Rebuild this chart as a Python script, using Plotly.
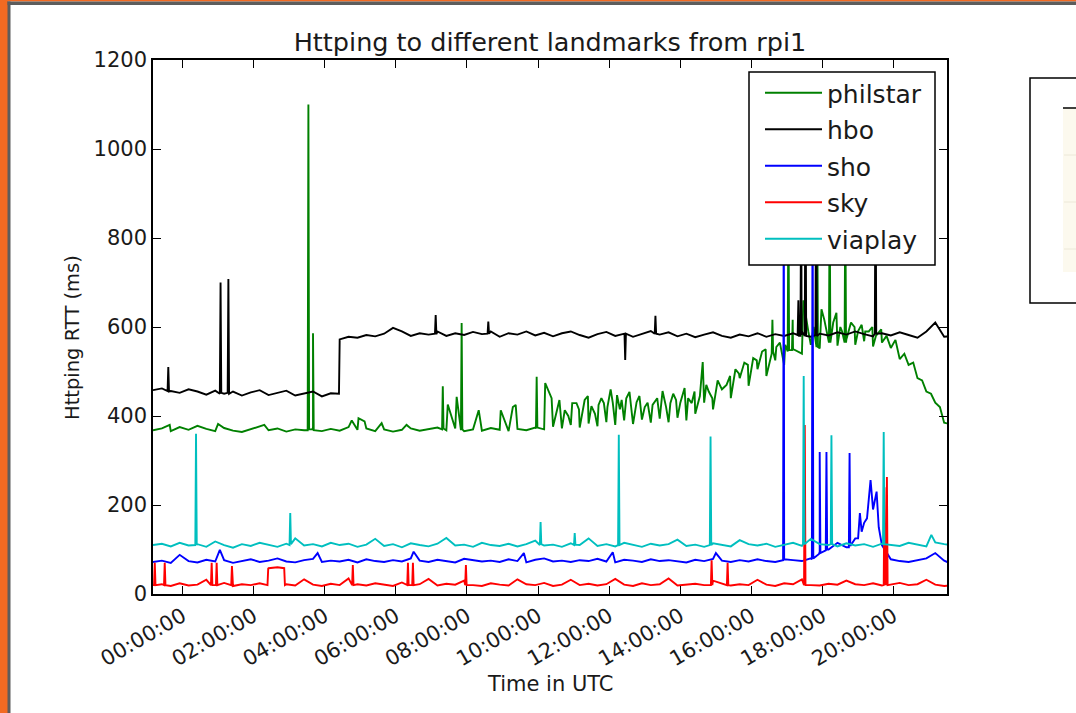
import numpy as np
import plotly.graph_objects as go

# ---------------- data (hours since 00:00 UTC, RTT in ms) ----------------
T0 = -0.83      # first sample (hours)
DT = 0.25       # sample spacing of the base readings (hours)

philstar_base = [368, 372, 366, 375, 369, 378, 371, 366, 373, 367, 364, 370, 376, 368, 372, 365,
                 370, 368, 374, 366, 371, 367, 375, 369, 372, 366, 370, 365, 369, 372, 367, 370,
                 374, 368, 372, 366, 370, 367, 373, 369, 366, 371, 368, 374, 370, 376, 372, 380,
                 374, 383, 377, 386, 380, 390, 382, 392, 385, 394, 386, 396, 390, 405, 430, 415,
                 460, 440, 485, 468, 505, 490, 525, 515, 548, 540, 560, 552, 570, 558, 572, 560,
                 568, 556, 565, 553, 528, 515, 485, 455, 430, 385, 380]
philstar_extra_t = [-0.36, 1.0, 2.3, 3.52, 3.54, 3.56, 3.65, 3.67, 3.69, 4.76, 4.95, 5.12, 5.6, 6.3,
                    7.30, 7.32, 7.34, 7.46, 7.71, 7.83, 7.85, 7.87, 8.33, 8.95, 9.29, 9.37,
                    9.94, 9.96, 9.98, 10.20, 10.38, 10.60, 10.75, 10.96, 11.08, 11.31, 11.50, 11.70,
                    11.85, 12.04, 12.22, 12.35, 12.57, 12.77, 13.00, 13.22, 13.50, 13.72, 13.88,
                    14.12, 14.32, 14.63, 14.73, 14.80, 15.05, 15.30, 15.55, 15.80, 16.05, 16.30,
                    16.57, 16.59, 16.61, 16.80, 17.02, 17.04, 17.06, 17.14, 17.16, 17.18, 17.46,
                    17.83, 17.85, 17.87, 17.97, 18.05, 18.18, 18.20, 18.22, 18.39, 18.50,
                    18.62, 18.64, 18.66, 18.80, 19.00, 19.10, 19.30, 19.40, 19.55, 19.65, 19.80,
                    20.05, 20.30, 20.55, 20.80, 21.05, 21.30,
                    10.85, 11.15, 11.40, 11.60, 11.78, 11.95, 12.10, 12.30, 12.48, 12.62, 12.85,
                    13.08, 13.35, 13.60, 13.80, 14.00, 14.22, 14.40, 14.55,
                    14.90, 15.12, 15.40, 15.65, 15.90, 16.15, 16.40, 16.70, 16.95,
                    17.60, 17.75, 18.10, 18.30, 18.55, 18.90, 19.20, 19.50, 19.75]
philstar_extra_v = [380, 382, 380, 368, 1100, 370, 370, 586, 368, 390, 395, 388, 384, 380,
                    370, 467, 372, 426, 443, 368, 609, 370, 413, 413, 420, 425,
                    372, 488, 374, 474, 440, 436, 413, 429, 429, 436, 422, 425,
                    429, 460, 447, 436, 454, 431, 420, 425, 456, 429, 436,
                    463, 429, 521, 470, 455, 480, 470, 505, 520, 530, 545,
                    540, 616, 545, 565, 545, 900, 548, 548, 616, 550, 660,
                    555, 900, 555, 640, 616, 565, 900, 565, 632, 600,
                    565, 900, 565, 610, 591, 605, 590, 600, 585, 595, 580,
                    571, 540, 520, 480, 450, 420,
                    400, 415, 445, 405, 440, 420, 430, 415, 440, 420, 445,
                    430, 440, 420, 450, 430, 440, 455, 445,
                    440, 470, 490, 495, 515, 525, 550, 555, 560,
                    590, 600, 595, 610, 590, 600, 590, 580, 575]

hbo_base = [458, 462, 456, 452, 460, 455, 448, 457, 450, 455, 446, 453, 458, 447, 452, 457,
            446, 450, 455, 444, 451, 572, 578, 576, 582, 579, 585, 598, 590, 580, 586, 583,
            590, 580, 586, 582, 589, 584, 590, 578, 586, 583, 590, 581, 587, 579, 586, 590,
            582, 576, 584, 589, 580, 586, 578, 585, 591, 583, 588, 579, 585, 577, 583, 588,
            580, 576, 583, 579, 586, 578, 584, 580, 586, 590, 578, 585, 581, 588, 583, 590,
            584, 579, 586, 581, 588, 582, 576, 590, 610, 578, 580]
hbo_extra_t = [-0.42, -0.40, -0.38, 1.05, 1.07, 1.09, 1.27, 1.29, 1.31, 4.40,
               7.10, 7.12, 7.14, 8.58, 8.60, 8.62, 12.43, 12.45, 12.47, 13.28, 13.30, 13.32,
               17.30, 17.32, 17.34, 17.38, 17.40, 17.41, 17.50, 17.52, 17.54,
               17.80, 17.82, 17.84, 19.47, 19.49, 19.51]
hbo_extra_v = [456, 510, 455, 450, 700, 452, 452, 708, 450, 450,
               585, 627, 584, 585, 612, 585, 585, 526, 585, 585, 625, 585,
               582, 660, 580, 580, 1000, 582, 580, 1000, 580,
               582, 1000, 580, 585, 1000, 585]

sho_base = [72, 75, 70, 88, 74, 71, 77, 73, 76, 70, 74, 78, 72, 75, 80, 73,
            71, 76, 79, 72, 75, 73, 77, 71, 78, 74, 72, 76, 73, 80, 75, 72,
            77, 74, 71, 79, 76, 73, 75, 72, 78, 74, 71, 77, 80, 73, 75, 72,
            76, 74, 79, 73, 71, 77, 75, 72, 78, 74, 76, 73, 71, 77, 74, 79,
            75, 72, 76, 73, 78, 74, 72, 76, 76, 74, 80, 95, 100, 115, 105, 125,
            160, 190, 110, 78, 74, 72, 76, 80, 92, 75, 66]
sho_extra_t = [1.05, 3.8, 6.5, 9.6, 12.1, 15.0,
               16.89, 16.91, 16.93, 17.70, 17.72, 17.74, 17.90, 17.92, 17.94,
               18.09, 18.11, 18.13, 18.74, 18.76, 18.78, 19.00, 19.05, 19.10,
               19.25, 19.35, 19.45, 19.52, 19.58]
sho_extra_v = [99, 92, 95, 92, 94, 92,
               76, 1000, 78, 78, 1000, 80, 90, 319, 92,
               98, 319, 100, 105, 317, 108, 125, 182, 140,
               170, 256, 200, 230, 150]

sky_base = [20, 22, 18, 24, 19, 21, 32, 20, 25, 18, 22, 20, 24, 58, 60, 22,
            19, 33, 21, 18, 23, 20, 35, 22, 19, 24, 21, 18, 26, 20, 22, 34,
            19, 23, 21, 30, 20, 18, 24, 21, 19, 33, 22, 20, 25, 18, 21, 32,
            20, 23, 19, 22, 34, 21, 18, 24, 20, 22, 35, 19, 21, 23, 20, 30,
            24, 19, 22, 20, 32, 21, 18, 24, 22, 33, 20, 19, 23, 21, 30, 22,
            20, 24, 19, 21, 25, 20, 22, 32, 21, 18, 20]
sky_extra_t = [-0.80, -0.78, -0.76, -0.52, -0.50, -0.48, 0.80, 0.82, 0.84, 0.94, 0.96, 0.98,
               1.37, 1.39, 1.41, 2.39, 2.41, 2.86, 2.88, 4.77, 4.79, 4.81,
               6.32, 6.34, 6.36, 6.46, 6.48, 6.50, 7.95, 7.97, 7.99,
               14.86, 14.88, 14.90, 15.31, 15.33, 15.35, 17.48, 17.50, 17.52,
               19.72, 19.74, 19.76, 19.79, 19.81, 19.83]
sky_extra_v = [20, 70, 20, 20, 70, 20, 20, 70, 20, 20, 70, 20,
               20, 63, 20, 20, 57, 58, 20, 20, 65, 20,
               20, 70, 20, 20, 70, 20, 20, 65, 20,
               20, 76, 20, 20, 70, 20, 20, 380, 20,
               20, 240, 22, 22, 263, 20]

viaplay_base = [110, 113, 107, 115, 109, 112, 106, 118, 110, 104, 112, 108, 115, 110, 106, 113,
                125, 109, 112, 107, 115, 110, 113, 106, 111, 124, 108, 112, 105, 114, 110, 107,
                113, 126, 109, 111, 106, 115, 110, 108, 113, 107, 112, 120, 109, 111, 106, 114,
                110, 125, 108, 112, 107, 115, 111, 106, 113, 109, 112, 122, 108, 111, 106, 114,
                110, 107, 121, 112, 109, 113, 106, 111, 115, 108, 124, 112, 110, 107, 114, 109,
                112, 106, 113, 110, 108, 115, 111, 107, 116, 112, 110]
viaplay_extra_t = [0.36, 0.38, 0.40, 3.01, 3.03, 3.05, 10.05, 10.07, 10.09, 11.01, 11.03, 11.05,
                   12.25, 12.27, 12.29, 14.83, 14.85, 14.87, 17.45, 17.47, 17.49,
                   18.23, 18.25, 18.27, 19.70, 19.72, 19.74, 21.06]
viaplay_extra_v = [110, 360, 111, 110, 182, 112, 110, 162, 112, 110, 137, 111,
                   110, 358, 110, 110, 354, 110, 112, 490, 112,
                   112, 357, 112, 112, 364, 112, 133]

tick_hours = [0, 2, 4, 6, 8, 10, 12, 14, 16, 18, 20]
tick_labels = ["00:00:00", "02:00:00", "04:00:00", "06:00:00", "08:00:00", "10:00:00",
               "12:00:00", "14:00:00", "16:00:00", "18:00:00", "20:00:00"]

series = [
    ("philstar", philstar_base, philstar_extra_t, philstar_extra_v, "#008000"),
    ("hbo", hbo_base, hbo_extra_t, hbo_extra_v, "#000000"),
    ("sho", sho_base, sho_extra_t, sho_extra_v, "#0000ff"),
    ("sky", sky_base, sky_extra_t, sky_extra_v, "#ff0000"),
    ("viaplay", viaplay_base, viaplay_extra_t, viaplay_extra_v, "#00bfbf"),
]


def build(base, et, ev):
    t = T0 + DT * np.arange(len(base))
    t = np.concatenate([t, np.asarray(et, float)])
    v = np.concatenate([np.asarray(base, float), np.asarray(ev, float)])
    order = np.argsort(t, kind="stable")
    return t[order], v[order]


FONT = "DejaVu Sans"
TXT = "#1a1a1a"
W, H = 1076, 713
L, R, TOP, BOT = 153, 947, 60, 594   # plot area in pixels

fig = go.Figure()
for name, base, et, ev, col in series:
    t, v = build(base, et, ev)
    fig.add_trace(go.Scatter(x=t, y=v, mode="lines", name=name, legendgroup=name,
                             line=dict(color=col, width=1.9), hoverinfo="skip"))


def px(x):
    return (x - L) / (R - L)


def py(y):
    return (BOT - y) / (BOT - TOP)


shapes = [
    # slide frame: orange edge + dark grey rule
    dict(type="rect", xref="paper", yref="paper", x0=px(-5), x1=px(8), y0=py(720), y1=py(-5),
         fillcolor="#f26a22", line=dict(width=0), layer="below"),
    dict(type="rect", xref="paper", yref="paper", x0=px(8), x1=px(W + 5), y0=py(1.5), y1=py(-5),
         fillcolor="#f26a22", line=dict(width=0), layer="below"),
    dict(type="rect", xref="paper", yref="paper", x0=px(7.5), x1=px(10.5), y0=py(720), y1=py(1.5),
         fillcolor="#5d5d5d", line=dict(width=0), layer="below"),
    dict(type="rect", xref="paper", yref="paper", x0=px(7.5), x1=px(W + 5), y0=py(5), y1=py(1.5),
         fillcolor="#5d5d5d", line=dict(width=0), layer="below"),
    # neighbouring (cut off) chart at the right
    dict(type="rect", xref="paper", yref="paper", x0=px(1030), x1=px(W + 20), y0=py(303), y1=py(78),
         fillcolor="white", line=dict(color="black", width=1.5), layer="below"),
    dict(type="rect", xref="paper", yref="paper", x0=px(1063), x1=px(W + 5), y0=py(272), y1=py(108),
         fillcolor="#fcf9ee", line=dict(width=0), layer="below"),
    dict(type="line", xref="paper", yref="paper", x0=px(1063), x1=px(W + 5), y0=py(108), y1=py(108),
         line=dict(color="black", width=1.5), layer="below"),
    # legend frame (opaque, covers the lines like the matplotlib legend)
    dict(type="rect", xref="paper", yref="paper", x0=px(749), x1=px(935), y0=py(265), y1=py(72),
         fillcolor="white", line=dict(color="black", width=1.5), layer="above"),
]
for yy in (155, 202, 249):
    shapes.append(dict(type="line", xref="paper", yref="paper", x0=px(1064), x1=px(W + 5),
                       y0=py(yy), y1=py(yy), line=dict(color="#ece8d8", width=1), layer="below"))

axis_common = dict(showgrid=False, zeroline=False, showline=True, linecolor="black", linewidth=1.5,
                   mirror="ticks", ticks="inside", ticklen=8, tickwidth=1.2, tickcolor="black",
                   tickfont=dict(family=FONT, size=21, color=TXT))

annotations = [
    dict(text="Time in UTC", xref="paper", yref="paper", x=px(550), y=py(684),
         xanchor="center", yanchor="middle", showarrow=False,
         font=dict(family=FONT, size=21, color=TXT)),
    dict(text="Httping RTT (ms)", xref="paper", yref="paper", x=px(73), y=py(338),
         xanchor="center", yanchor="middle", showarrow=False, textangle=-90,
         font=dict(family=FONT, size=19.5, color=TXT)),
]

fig.update_layout(
    width=W, height=H,
    margin=dict(l=L, r=W - R, t=TOP, b=H - BOT, pad=0),
    paper_bgcolor="white", plot_bgcolor="white",
    font=dict(family=FONT, color=TXT),
    title=dict(text="Httping to different landmarks from rpi1", x=px(550), xref="paper",
               xanchor="center", y=1 - 42 / H, yanchor="middle",
               font=dict(family=FONT, size=25.5, color=TXT)),
    xaxis=dict(range=[-0.83, 21.5], tickvals=tick_hours, ticktext=tick_labels, tickangle=-30,
               **axis_common),
    yaxis=dict(range=[0, 1200], tickvals=[0, 200, 400, 600, 800, 1000, 1200],
               **axis_common),
    legend=dict(x=px(760), xanchor="left", y=py(70), yanchor="top",
                bgcolor="rgba(0,0,0,0)", borderwidth=0,
                font=dict(family=FONT, size=25, color=TXT),
                traceorder="grouped", tracegroupgap=1, itemwidth=57),
    shapes=shapes,
    annotations=annotations,
    showlegend=True,
)

fig.write_html("out.html", config={"displayModeBar": False},
               post_script="document.body.style.margin='0';")
